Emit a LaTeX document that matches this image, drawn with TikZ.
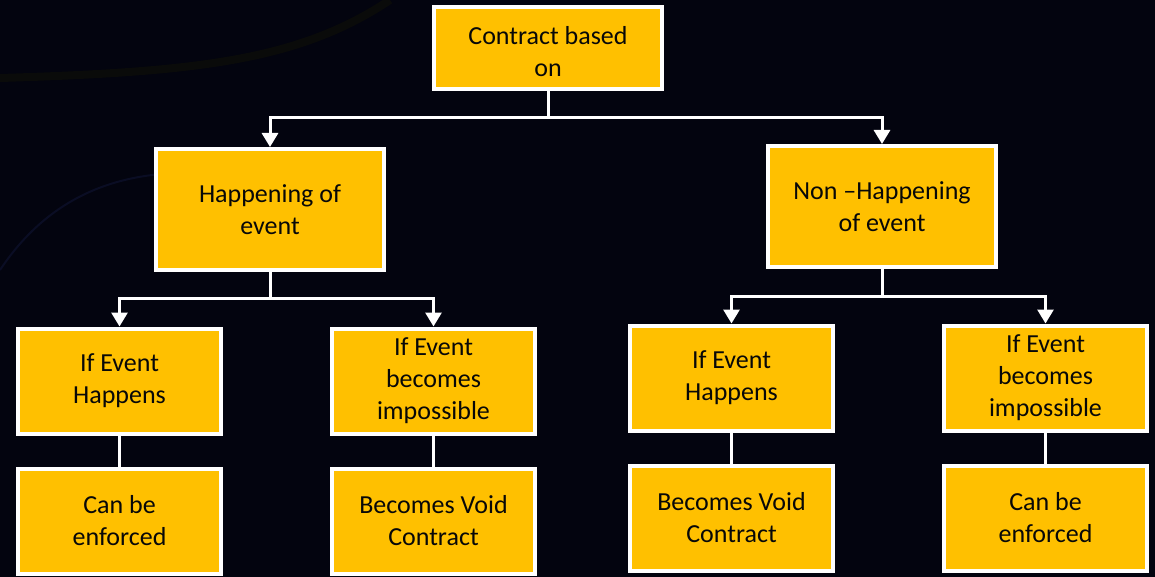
\documentclass[tikz,border=0pt]{standalone}
\usepackage{fontspec}
\setmainfont{Carlito}
\usetikzlibrary{arrows.meta}
\definecolor{bgnavy}{HTML}{03040F}
\definecolor{gold}{HTML}{FFC000}
\definecolor{ink}{HTML}{080808}
\definecolor{swirlA}{HTML}{0A0B0A}
\definecolor{swirlB}{HTML}{0A0D24}
\begin{document}
\begin{tikzpicture}[x=1pt,y=-1pt,
  box/.style={draw=white,line width=4pt,fill=gold,align=center,text=ink,
    font=\fontsize{26}{32}\selectfont,inner sep=0pt},
  bigbox/.style={box,minimum width=228pt,minimum height=121pt},
  leafbox/.style={box,minimum width=203pt,minimum height=105pt},
  conn/.style={draw=white,line width=3pt},
  arrowconn/.style={conn,-{Triangle[width=16pt,length=14pt]}}]
  % background
  \fill[bgnavy] (0,0) rectangle (1155,577);
  \useasboundingbox (0,0) rectangle (1155,577);
  % faint decorative swirls
  \draw[line width=8pt,color=swirlA] (0,78) .. controls (200,72) and (300,60) .. (390,0);
  \draw[line width=2pt,color=swirlB] (0,270) .. controls (60,180) and (150,160) .. (260,180);

  % root (strut nudges the two lines slightly down)
  \node[box,minimum width=228pt,minimum height=82pt] (top) at (548,48) {\rule{0pt}{25pt}Contract based\\on};

  % second level
  \node[bigbox] (hap) at (270,209.5) {Happening of\\event};
  \node[bigbox] (non) at (882,206.5) {Non \textendash Happening\\of event};

  % third level
  \node[leafbox] (la) at (119.5,381) {If Event\\Happens};
  \node[leafbox] (lb) at (433.5,381) {If Event\\becomes\\impossible};
  \node[leafbox] (ra) at (731.5,378) {If Event\\Happens};
  \node[leafbox] (rb) at (1045.5,378) {If Event\\becomes\\impossible};

  % outcomes
  \node[leafbox] (lc) at (119.5,521) {Can be\\enforced};
  \node[leafbox] (ld) at (433.5,521) {Becomes Void\\Contract};
  \node[leafbox] (rc) at (731.5,518) {Becomes Void\\Contract};
  \node[leafbox] (rd) at (1045.5,518) {Can be\\enforced};

  % junction points
  \coordinate (j0) at (548,118);
  \coordinate (j1) at (270,298);
  \coordinate (j2) at (882,296);

  % connectors
  \draw[arrowconn] (top.south) -- (j0) -| (hap.north);
  \draw[arrowconn] (j0) -| (non.north);
  \draw[arrowconn] (hap.south) -- (j1) -| (la.north);
  \draw[arrowconn] (j1) -| (lb.north);
  \draw[arrowconn] (non.south) -- (j2) -| (ra.north);
  \draw[arrowconn] (j2) -| (rb.north);
  \draw[conn] (la.south) -- (lc.north);
  \draw[conn] (lb.south) -- (ld.north);
  \draw[conn] (ra.south) -- (rc.north);
  \draw[conn] (rb.south) -- (rd.north);
\end{tikzpicture}
\end{document}
